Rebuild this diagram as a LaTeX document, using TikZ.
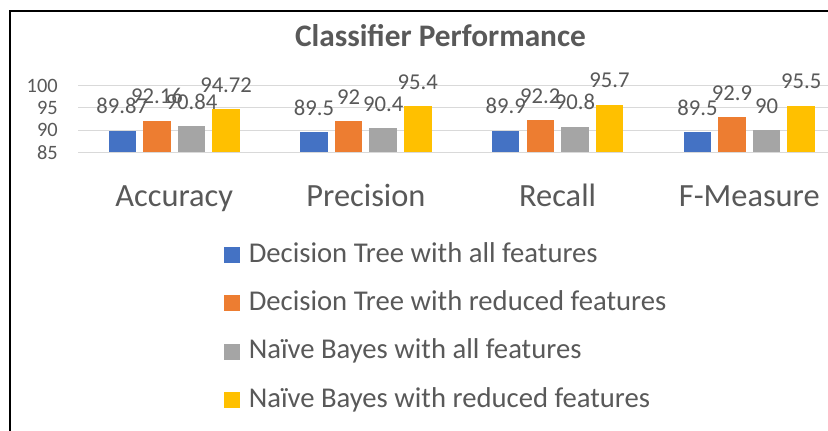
\documentclass[tikz,border=0pt]{standalone}
\usepackage{fontspec}
\setmainfont{Carlito}
\definecolor{txt}{HTML}{595959}
\definecolor{gridc}{HTML}{D9D9D9}
\definecolor{cb}{HTML}{4472C4}
\definecolor{co}{HTML}{ED7D31}
\definecolor{cg}{HTML}{A5A5A5}
\definecolor{cy}{HTML}{FFC000}
\tikzset{
  gridline/.style={draw=gridc, line width=0.9pt},
  ticklbl/.style={text=txt, inner sep=0pt, font=\fontsize{15.3}{15}\selectfont},
  vallbl/.style={text=txt, inner sep=0pt, font=\fontsize{17}{17}\selectfont},
  catlbl/.style={text=txt, inner sep=0pt, font=\fontsize{24.3}{25}\selectfont},
  leglbl/.style={text=txt, inner sep=0pt, font=\fontsize{21.5}{22}\selectfont},
  titlelbl/.style={text=txt, inner sep=0pt, font=\bfseries\fontsize{23.5}{24}\selectfont},
  legsq/.style={draw=none, minimum size=12pt, inner sep=0pt}
}
\begin{document}
\begin{tikzpicture}[x=0.75pt,y=-0.75pt]
\useasboundingbox (0,0) rectangle (828,431);
\fill[white] (0,0) rectangle (828,431);
\draw[line width=1.5pt] (9.5,431) -- (9.5,11) -- (828,11);
% title
\node[titlelbl, anchor=base] (title) at (440.5,46.7) {Classifier Performance};
% gridlines and ticks
\foreach \v/\yy in {100/85.5,95/107.8,90/130.2,85/152.5}{
  \draw[gridline] (78,\yy) -- (828,\yy);
  \node[ticklbl, anchor=east] (tick-\v) at (58,\yy) {\v};
}
% bars
\foreach \g/\cx/\name/\a/\b/\c/\d in {
  1/174.2/Accuracy/89.87/92.16/90.84/94.72,
  2/365.9/Precision/89.5/92/90.4/95.4,
  3/557.6/Recall/89.9/92.2/90.8/95.7,
  4/749.3/F-Measure/89.5/92.9/90/95.5}{
  \foreach \i/\off/\col/\val in {1/-51.9/cb/\a, 2/-17.3/co/\b, 3/17.3/cg/\c, 4/51.9/cy/\d}{
    \pgfmathsetmacro{\tp}{152.5-(\val-85)*67/15}
    \pgfmathsetmacro{\xl}{\cx+\off-13.75}
    \pgfmathsetmacro{\xr}{\cx+\off+13.75}
    \pgfmathsetmacro{\ly}{\tp-17}
    \pgfmathsetmacro{\lx}{\cx+\off}
    \fill[\col] (\xl,\tp) rectangle (\xr,152.5);
    \node[vallbl, anchor=base] (v-\g-\i) at (\lx,\ly) {\val};
  }
  \node[catlbl, anchor=base] (cat-\g) at (\cx,206) {\name};
}
% legend
\foreach \i/\col/\txt/\cy in {
  1/cb/Decision Tree with all features/255,
  2/co/Decision Tree with reduced features/303.3,
  3/cg/Naïve Bayes with all features/351.6,
  4/cy/Naïve Bayes with reduced features/400}{
  \node[legsq, fill=\col] (sq-\i) at (232,\cy) {};
  \pgfmathsetmacro{\by}{\cy+7.3}
  \node[leglbl, anchor=base west] (leg-\i) at (248.5,\by) {\txt};
}
\end{tikzpicture}
\end{document}
